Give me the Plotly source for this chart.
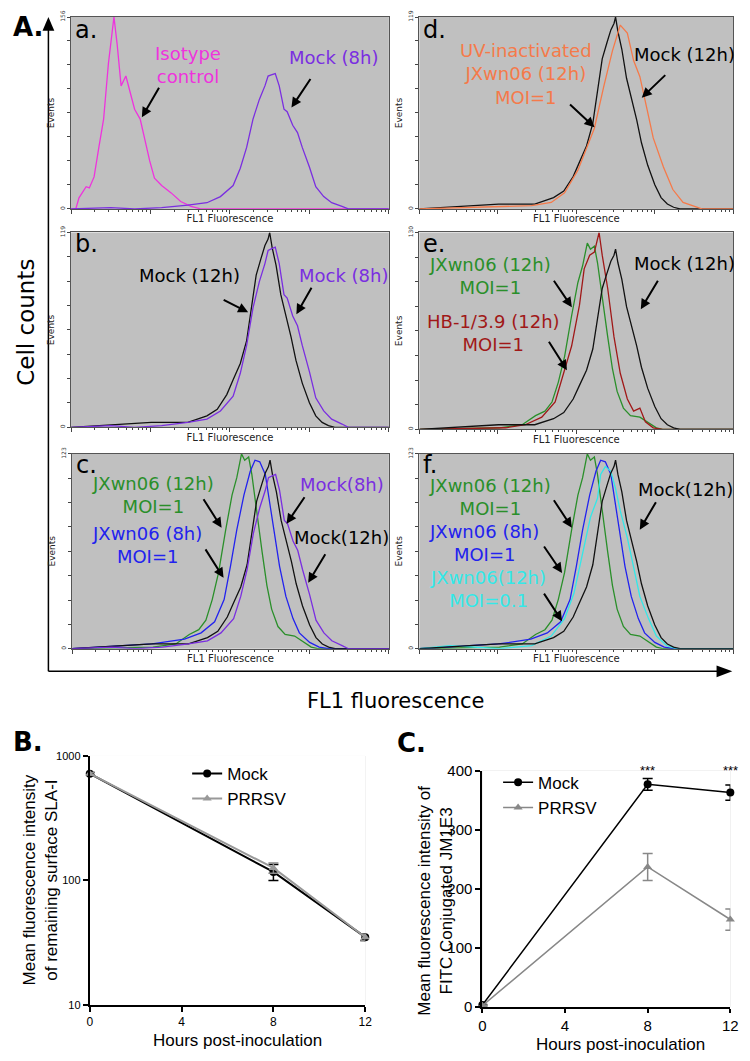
import numpy as np
import plotly.graph_objects as go

W, H = 750, 1061
OFF = 8  # the page body adds 8px before the plot div
FONT = "Liberation Sans, Arial, sans-serif"
WIDE = "DejaVu Sans, Verdana, sans-serif"

# ---- flow cytometry histograms: log10(FL1) position and event counts
iso_x = [0.00, 0.06, 0.10, 0.19, 0.23, 0.29, 0.35, 0.41, 0.47, 0.54, 0.58, 0.63, 0.69, 0.74, 0.80,
         0.87, 0.93, 0.99, 1.05, 1.14, 1.26, 1.38, 1.51, 1.63, 2.5, 4.0]
iso_y = [0, 0, 9, 18, 17, 26, 50, 73, 118, 156, 134, 100, 108, 95, 81,
         73, 55, 39, 25, 19, 13, 6, 2, 0, 0, 0]

mock8_x = [0.00, 0.50, 0.80, 1.14, 1.47, 1.71, 1.88, 2.04, 2.13, 2.21, 2.29, 2.37, 2.44, 2.48, 2.52,
           2.57, 2.62, 2.68, 2.72, 2.79, 2.85, 2.91, 3.00, 3.08, 3.18, 3.28, 3.41, 3.49, 4.0]
mock8_y = [0, 1, 0, 1, 3, 5, 10, 19, 33, 50, 73, 89, 100, 108, 109,
           110, 100, 81, 79, 68, 62, 50, 34, 18, 10, 5, 2, 0, 0]

mock12_x = [0.00, 0.39, 1.01, 1.47, 1.71, 1.84, 1.96, 2.04, 2.13, 2.21, 2.27, 2.33, 2.39, 2.44, 2.48,
            2.50, 2.53, 2.58, 2.64, 2.70, 2.77, 2.83, 2.91, 3.00, 3.08, 3.16, 3.24, 3.32, 4.0]
mock12_y = [0, 1, 3, 3, 7, 11, 20, 29, 39, 53, 73, 93, 103, 111, 115,
            119, 110, 99, 81, 69, 55, 41, 27, 15, 7, 3, 1, 0, 0]

uv_x = [0.00, 1.43, 1.68, 1.85, 2.02, 2.23, 2.35, 2.46, 2.56, 2.65, 2.73, 2.81, 2.90, 2.98, 3.11,
        3.23, 3.36, 3.52, 3.60, 4.0]
uv_y = [0, 2, 4, 10, 24, 50, 76, 98, 114, 109, 92, 82, 62, 44, 26,
        12, 4, 1, 0, 0]

jx12_x = [0.00, 1.02, 1.31, 1.48, 1.60, 1.69, 1.77, 1.85, 1.94, 2.02, 2.08, 2.14, 2.18, 2.23, 2.27,
          2.33, 2.40, 2.46, 2.52, 2.60, 2.69, 2.81, 2.90, 3.02, 3.10, 4.0]
jx12_y = [0, 1, 3, 9, 12, 18, 31, 48, 75, 97, 108, 123, 119, 121, 110,
          86, 61, 40, 25, 14, 9, 8, 5, 1, 0, 0]

hb_x = [0.00, 1.10, 1.35, 1.56, 1.73, 1.85, 1.94, 2.04, 2.10, 2.17, 2.23, 2.29, 2.33, 2.40, 2.48,
        2.56, 2.65, 2.73, 2.81, 2.88, 2.98, 3.10, 4.0]
hb_y = [0, 1, 3, 8, 18, 40, 55, 82, 106, 115, 117, 130, 115, 93, 61,
        37, 20, 12, 14, 5, 1, 0, 0]

jx8_x = [0.00, 0.39, 1.01, 1.42, 1.63, 1.80, 1.92, 2.00, 2.08, 2.17, 2.25, 2.31, 2.37, 2.44, 2.50,
         2.56, 2.62, 2.70, 2.79, 2.87, 3.00, 3.12, 3.24, 4.0]
jx8_y = [0, 1, 3, 6, 10, 17, 31, 52, 75, 97, 112, 119, 118, 110, 91,
         70, 52, 33, 19, 10, 4, 1, 0, 0]

jx12lo_x = [0.00, 0.39, 1.02, 1.43, 1.68, 1.85, 1.97, 2.10, 2.18, 2.27, 2.31, 2.37, 2.44, 2.50, 2.56,
            2.65, 2.73, 2.81, 2.92, 3.02, 3.15, 3.27, 4.0]
jx12lo_y = [0, 2, 0, 2, 8, 19, 35, 64, 83, 95, 110, 115, 112, 101, 87,
            70, 52, 33, 19, 8, 2, 0, 0]

curves = {
    "iso": (iso_x, iso_y), "mock8": (mock8_x, mock8_y), "mock12": (mock12_x, mock12_y),
    "uv": (uv_x, uv_y), "jx12": (jx12_x, jx12_y), "hb": (hb_x, hb_y),
    "jx8": (jx8_x, jx8_y), "jx12lo": (jx12lo_x, jx12lo_y),
}
colors = {
    "iso": "#ee33dd", "mock8": "#7a2ee0", "mock12": "#111111", "uv": "#f57a4a",
    "jx12": "#2a8f2a", "hb": "#a01818", "jx8": "#2222ee", "jx12lo": "#33e8e8",
}

# ---- B: remaining surface SLA-I (log scale); C: FITC-JM1E3
hours = [0, 8, 12]
b_mock = [720, 117, 35]
b_mock_err = [15, 17, 2]
b_prrsv = [720, 126, 35]
b_prrsv_err = [15, 12, 2]
c_mock = [3, 377, 363]
c_mock_err = [1, 10, 13]
c_prrsv = [2, 237, 148]
c_prrsv_err = [1, 23, 18]
c_signif = ["***", "***"]
c_signif_hours = [8, 12]


def fx(p):
    return (p - OFF) / W


def fy(p):
    return 1 - (p - OFF) / H


def clamp(v):
    return min(1.0, max(0.0, v))


# panel: letter, x px range, y px range, y max, curves drawn
panels = [
    ("a.", (68, 391), (6, 203), 156, ["iso", "mock8"]),
    ("b.", (68, 391), (227, 425), 119, ["mock12", "mock8"]),
    ("c.", (69, 391), (452, 650), 123, ["jx12", "jx8", "mock12", "mock8"]),
    ("d.", (422, 741), (6, 203), 119, ["mock12", "uv"]),
    ("e.", (422, 741), (227, 427), 130, ["jx12", "hb", "mock12"]),
    ("f.", (422, 741), (452, 650), 123, ["jx12", "jx8", "jx12lo", "mock12"]),
]

fig = go.Figure()
annotations = []
layout = {}


def note(text, x, y, size, color="black", angle=0, xa="center", ya="middle", family=WIDE):
    annotations.append(dict(text=text, x=fx(x), y=fy(y), xref="paper", yref="paper", showarrow=False,
                            xanchor=xa, yanchor=ya, textangle=angle, align="center", borderpad=0,
                            font=dict(size=size, color=color, family=family)))


for i, (letter, (x0, x1), (y0, y1), ymax, keys) in enumerate(panels, start=1):
    sx = "" if i == 1 else str(i)
    for k in keys:
        xs, ys = curves[k]
        fig.add_trace(go.Scatter(
            x=10 ** np.array(xs), y=ys, mode="lines", line=dict(color=colors[k], width=1.3),
            xaxis="x" + sx, yaxis="y" + sx, showlegend=False, hoverinfo="skip"))
    ticks = [ymax * j / 8 for j in range(9)]
    layout["xaxis" + sx] = dict(
        domain=[clamp(fx(x0)), clamp(fx(x1))], anchor="y" + sx, type="log", range=[0, 4], dtick=1,
        showticklabels=False, ticks="outside", ticklen=4, tickcolor="#444",
        minor=dict(ticks="outside", ticklen=2, tickcolor="#444", showgrid=False),
        showgrid=False, zeroline=False, showline=True, linecolor="#555", linewidth=1, mirror=True,
        title=dict(text="FL1 Fluorescence", font=dict(size=10, color="#222", family=WIDE), standoff=2))
    layout["yaxis" + sx] = dict(
        domain=[clamp(fy(y1)), clamp(fy(y0))], anchor="x" + sx, range=[0, ymax], tickvals=ticks,
        ticktext=["0"] + [""] * 7 + [str(ymax)], tickangle=-90,
        tickfont=dict(size=6, color="#333", family=WIDE),
        ticks="outside", ticklen=3, tickcolor="#444", showgrid=False, zeroline=False,
        showline=True, linecolor="#555", linewidth=1, mirror=True,
        title=dict(text="Events", font=dict(size=9, color="#222", family=WIDE), standoff=2))
    note(letter, x0 + 3, max(y0, OFF + 2) - 4, 24, xa="left", ya="top")

# histogram labels: (text, color, x px, y px)
labels = [
    ("Isotype<br>control", colors["iso"], 187, 57),
    ("Mock (8h)", colors["mock8"], 335, 49),
    ("Mock (12h)", "black", 188, 271),
    ("Mock (8h)", colors["mock8"], 345, 271),
    ("JXwn06 (12h)<br>MOI=1", colors["jx12"], 151, 494),
    ("JXwn06 (8h)<br>MOI=1", colors["jx8"], 145, 545),
    ("Mock(8h)", colors["mock8"], 343, 483),
    ("Mock(12h)", "black", 343, 537),
    ("UV-inactivated<br>JXwn06 (12h)<br>MOI=1", colors["uv"], 530, 66),
    ("Mock (12h)", "black", 691, 46),
    ("JXwn06 (12h)<br>MOI=1", colors["jx12"], 494, 271),
    ("HB-1/3.9 (12h)<br>MOI=1", colors["hb"], 497, 329),
    ("Mock (12h)", "black", 691, 259),
    ("JXwn06 (12h)<br>MOI=1", colors["jx12"], 494, 496),
    ("JXwn06 (8h)<br>MOI=1", colors["jx8"], 488, 543),
    ("JXwn06(12h)<br>MOI=0.1", colors["jx12lo"], 492, 589),
    ("Mock(12h)", "black", 692, 488),
]
for t, c, x, y in labels:
    note(t, x, y, 18, color=c)

# arrows: tail px -> tip px
arrows = [
    ((158, 79), (140, 110)), ((312, 70), (292, 100)),
    ((222, 295), (248, 308)), ((313, 282), (297, 310)),
    ((202, 497), (221, 527)), ((204, 548), (223, 578)),
    ((306, 495), (287, 523)), ((327, 553), (309, 583)),
    ((574, 96), (600, 120)), ((673, 66), (648, 90)),
    ((558, 275), (577, 303)), ((553, 337), (572, 367)), ((665, 275), (647, 305)),
    ((558, 498), (577, 527)), ((548, 545), (567, 573)), ((548, 593), (567, 622)),
    ((663, 500), (646, 529)),
]
for (tx, ty), (hx, hy) in arrows:
    annotations.append(dict(text="", x=fx(hx), y=fy(hy), xref="paper", yref="paper",
                            ax=tx - hx, ay=ty - hy, showarrow=True, arrowhead=2,
                            arrowsize=1, arrowwidth=2, arrowcolor="black"))

# ---- panel B
fig.add_trace(go.Scatter(
    x=hours, y=b_mock, name="Mock", mode="lines+markers", xaxis="x7", yaxis="y7", legend="legend",
    line=dict(color="black", width=2), marker=dict(symbol="circle", size=8, color="black"),
    error_y=dict(type="data", array=b_mock_err, color="black", thickness=1.5, width=5),
    cliponaxis=False))
fig.add_trace(go.Scatter(
    x=hours, y=b_prrsv, name="PRRSV", mode="lines+markers", xaxis="x7", yaxis="y7", legend="legend",
    line=dict(color="#999999", width=2), marker=dict(symbol="triangle-up", size=8, color="#999999"),
    error_y=dict(type="data", array=b_prrsv_err, color="#888888", thickness=1.5, width=5),
    cliponaxis=False))
axis_common = dict(showgrid=False, zeroline=False, showline=True, linecolor="black", linewidth=2,
                   ticks="outside", ticklen=5, tickwidth=1.5, tickcolor="black")
layout["xaxis7"] = dict(axis_common, domain=[fx(87), fx(367)], anchor="y7", range=[0, 12],
                        tickvals=[0, 4, 8, 12], tickfont=dict(size=12, color="black"))
layout["yaxis7"] = dict(axis_common, domain=[fy(1012), fy(759)], anchor="x7", type="log", range=[1, 3],
                        tickvals=[10, 100, 1000], tickfont=dict(size=11, color="black"))

# ---- panel C
fig.add_trace(go.Scatter(
    x=hours, y=c_mock, name="Mock", mode="lines+markers", xaxis="x8", yaxis="y8", legend="legend2",
    line=dict(color="black", width=1.5), marker=dict(symbol="circle", size=8, color="black"),
    error_y=dict(type="data", array=c_mock_err, color="black", thickness=1.5, width=5),
    cliponaxis=False))
fig.add_trace(go.Scatter(
    x=hours, y=c_prrsv, name="PRRSV", mode="lines+markers", xaxis="x8", yaxis="y8", legend="legend2",
    line=dict(color="#888888", width=1.5), marker=dict(symbol="triangle-up", size=8, color="#888888"),
    error_y=dict(type="data", array=c_prrsv_err, color="#888888", thickness=1.5, width=5),
    cliponaxis=False))
layout["xaxis8"] = dict(axis_common, domain=[fx(486), fx(738)], anchor="y8", range=[0, 12],
                        tickvals=[0, 4, 8, 12], tickfont=dict(size=15, color="black"), ticklen=4)
layout["yaxis8"] = dict(axis_common, domain=[fy(1014), fy(774)], anchor="x8", range=[0, 400],
                        tickvals=[0, 100, 200, 300, 400], tickfont=dict(size=15, color="black"))

for txt, xh in zip(c_signif, c_signif_hours):
    annotations.append(dict(text=txt, x=xh, y=fy(774), xref="x8", yref="paper", showarrow=False,
                            xanchor="center", yanchor="middle", font=dict(size=13, color="black")))

# ---- overall titles and frame text
note("<b>A.</b>", 8, 18, 26, xa="left")
note("<b>B.</b>", 8, 745, 26, xa="left")
note("<b>C.</b>", 398, 746, 26, xa="left")
note("Cell counts", 22, 318, 23, angle=-90)
note("FL1 fluorescence", 398, 703, 21)
note("Mean fluorescence intensity<br>of remaining surface SLA-I", 37, 885, 17, angle=-90, family=FONT)
note("Hours post-inoculation", 237, 1048, 17, family=FONT)
note("Mean fluorescence intensity of<br>FITC Conjugated JM1E3", 438, 906, 17, angle=-90, family=FONT)
note("Hours post-inoculation", 626, 1052, 17, family=FONT)

shapes = [
    dict(type="line", xref="paper", yref="paper", x0=fx(45), x1=fx(45), y0=fy(673), y1=fy(14),
         line=dict(color="black", width=1.5)),
    dict(type="line", xref="paper", yref="paper", x0=fx(45), x1=fx(726), y0=fy(673), y1=fy(673),
         line=dict(color="black", width=1.5)),
    dict(type="path", xref="paper", yref="paper", fillcolor="black", line=dict(width=0),
         path=f"M {fx(39)},{fy(22)} L {fx(51)},{fy(22)} L {fx(45)},{fy(8)} Z"),
    dict(type="path", xref="paper", yref="paper", fillcolor="black", line=dict(width=0),
         path=f"M {fx(724)},{fy(667)} L {fx(724)},{fy(679)} L {fx(740)},{fy(673)} Z"),
]
# B and C have white plot areas
for (x0, x1, y0, y1) in [(87, 367, 759, 1012), (486, 738, 774, 1014)]:
    shapes.append(dict(type="rect", xref="paper", yref="paper", x0=fx(x0), x1=fx(x1), y0=fy(y1), y1=fy(y0),
                       fillcolor="white", line=dict(width=0), layer="below"))

fig.update_layout(
    width=W, height=H, autosize=False, margin=dict(l=0, r=0, t=0, b=0),
    paper_bgcolor="white", plot_bgcolor="#c0c0c0", font=dict(family=FONT, color="black"),
    annotations=annotations, shapes=shapes,
    legend=dict(x=fx(186), y=fy(759), xanchor="left", yanchor="top", bgcolor="rgba(0,0,0,0)",
                font=dict(size=17), tracegroupgap=0, itemwidth=30),
    legend2=dict(x=fx(502), y=fy(768), xanchor="left", yanchor="top", bgcolor="rgba(0,0,0,0)",
                 font=dict(size=17), tracegroupgap=0, itemwidth=30),
    **layout,
)

fig.write_html("out.html")
